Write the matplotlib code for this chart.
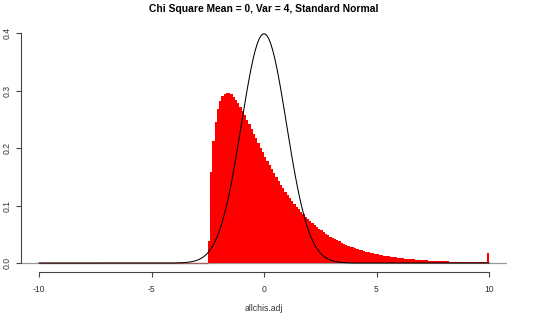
import numpy as np
import matplotlib
matplotlib.use("Agg")
import matplotlib.pyplot as plt

# histogram of allchis.adj, density per 0.1 bin from -10 to 10
bin_start = -10.0
bin_width = 0.1
chi_density = [
    0.0390, 0.1583, 0.2129, 0.2459, 0.2673, 0.2812, 0.2899, 0.2945, 0.2962, 0.2956,
    0.2931, 0.2891, 0.2841, 0.2781, 0.2715, 0.2643, 0.2568, 0.2490, 0.2410, 0.2329,
    0.2247, 0.2166, 0.2085, 0.2006, 0.1927, 0.1850, 0.1775, 0.1701, 0.1629, 0.1560,
    0.1492, 0.1427, 0.1363, 0.1302, 0.1243, 0.1187, 0.1132, 0.1079, 0.1029, 0.0981,
    0.0934, 0.0889, 0.0847, 0.0806, 0.0767, 0.0729, 0.0694, 0.0660, 0.0627, 0.0596,
    0.0566, 0.0538, 0.0511, 0.0485, 0.0460, 0.0437, 0.0415, 0.0394, 0.0374, 0.0354,
    0.0336, 0.0319, 0.0302, 0.0287, 0.0272, 0.0258, 0.0244, 0.0231, 0.0219, 0.0208,
    0.0197, 0.0186, 0.0177, 0.0167, 0.0158, 0.0150, 0.0142, 0.0134, 0.0127, 0.0120,
    0.0114, 0.0108, 0.0102, 0.0097, 0.0091, 0.0087, 0.0082, 0.0077, 0.0073, 0.0069,
    0.0066, 0.0062, 0.0059, 0.0055, 0.0052, 0.0050, 0.0047, 0.0044, 0.0042, 0.0040,
    0.0037, 0.0035, 0.0033, 0.0032, 0.0030, 0.0028, 0.0027, 0.0025, 0.0024, 0.0023,
    0.0021, 0.0020, 0.0019, 0.0018, 0.0017, 0.0016, 0.0015, 0.0014, 0.0013, 0.0013,
    0.0012, 0.0011, 0.0011, 0.0010, 0.0171,
]
heights = np.array([0.0] * 75 + chi_density)
edges = bin_start + bin_width * np.arange(len(heights) + 1)

# standard normal density, read at 0.1 steps
norm_x = [-10.0] + list(np.round(np.arange(-40, 41) / 10, 1)) + [10.0]
norm_y = [
    0.0,
    0.0001, 0.0002, 0.0003, 0.0004, 0.0006, 0.0009, 0.0012, 0.0017, 0.0024, 0.0033,
    0.0044, 0.0060, 0.0079, 0.0104, 0.0136, 0.0175, 0.0224, 0.0283, 0.0355, 0.0440,
    0.0540, 0.0656, 0.0790, 0.0940, 0.1109, 0.1295, 0.1497, 0.1714, 0.1942, 0.2179,
    0.2420, 0.2661, 0.2897, 0.3123, 0.3332, 0.3521, 0.3683, 0.3814, 0.3910, 0.3970,
    0.3989,
    0.3970, 0.3910, 0.3814, 0.3683, 0.3521, 0.3332, 0.3123, 0.2897, 0.2661, 0.2420,
    0.2179, 0.1942, 0.1714, 0.1497, 0.1295, 0.1109, 0.0940, 0.0790, 0.0656, 0.0540,
    0.0440, 0.0355, 0.0283, 0.0224, 0.0175, 0.0136, 0.0104, 0.0079, 0.0060, 0.0044,
    0.0033, 0.0024, 0.0017, 0.0012, 0.0009, 0.0006, 0.0004, 0.0003, 0.0002, 0.0001,
    0.0,
]

x_ticks = [-10, -5, 0, 5, 10]
y_ticks = [0.0, 0.1, 0.2, 0.3, 0.4]

plt.rcParams['font.family'] = ['Liberation Sans', 'DejaVu Sans']

fig = plt.figure(figsize=(5.43, 3.21), dpi=100)
ax = fig.add_axes([21 / 543, 49 / 321, 486 / 543, 248 / 321])

ax.axhline(0, color='#999999', lw=0.9, zorder=1)
ax.stairs(heights, edges, fill=True, color='red', zorder=2)
zero = heights == 0
ax.hlines(np.zeros(zero.sum()), edges[:-1][zero], edges[1:][zero],
          color='#a85a52', lw=0.9, zorder=2)
ax.plot(norm_x, norm_y, color='black', lw=0.75, zorder=3)

ax.set_xlim(-10.8, 10.8)
ax.set_ylim(-0.01565, 0.4157)

for side in ['top', 'right']:
    ax.spines[side].set_visible(False)
ax.spines['left'].set_bounds(0, 0.4)
ax.spines['bottom'].set_bounds(-10, 10)
for side in ['left', 'bottom']:
    ax.spines[side].set_color('#444444')
    ax.spines[side].set_linewidth(0.8)

ax.set_xticks(x_ticks)
ax.set_xticklabels(['%d' % t for t in x_ticks])
ax.set_yticks(y_ticks)
ax.set_yticklabels(['%.1f' % t for t in y_ticks], rotation=90, va='center')
ax.tick_params(axis='both', length=3.5, width=0.8, color='#444444',
               labelsize=6.2, labelcolor='#333333')
ax.tick_params(axis='x', pad=6)
ax.tick_params(axis='y', pad=3)

ax.set_xlabel('allchis.adj', fontsize=6.2, color='#333333', labelpad=7)
ax.set_title('Chi Square Mean = 0, Var = 4, Standard Normal',
             fontsize=7.4, fontweight='bold', pad=9)

fig.savefig('out.png', dpi=100)
